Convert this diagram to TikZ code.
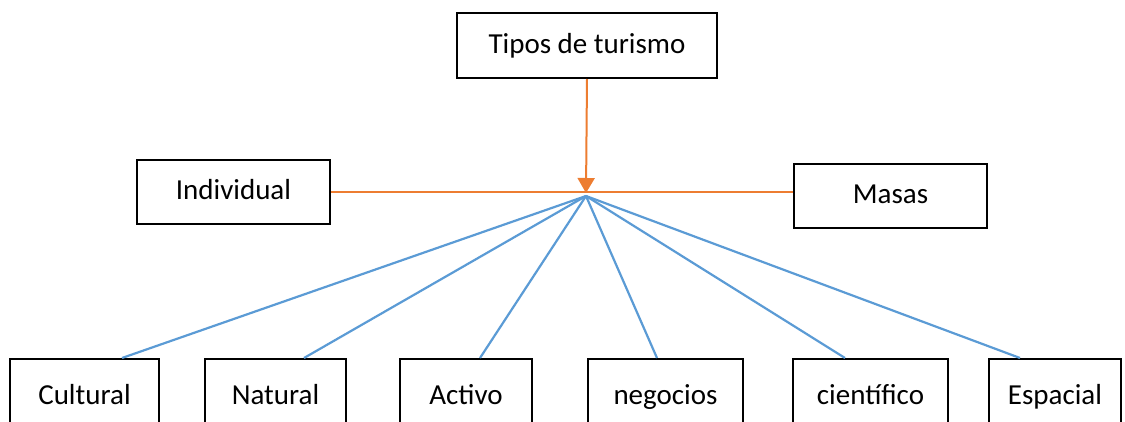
\documentclass[tikz,border=0pt]{standalone}
\usepackage{fontspec}
\setmainfont{Carlito}
\usetikzlibrary{positioning, arrows.meta}
\definecolor{ramaazul}{RGB}{91,155,213}
\definecolor{naranja}{RGB}{237,125,49}

\begin{document}
\begin{tikzpicture}[x=1pt, y=-1pt,
  caja/.style={rectangle, draw=black, line width=2pt, minimum height=64pt, inner sep=0pt, text height=21pt, text depth=6pt, align=center, fill=white, font=\fontsize{29}{35}\selectfont},
  flecha/.style={-{Triangle[length=15pt, width=17pt]}, line width=2pt, naranja},
  enlace/.style={line width=1.3pt, naranja},
  rama/.style={line width=2.2pt, ramaazul}
]
\useasboundingbox (0,0) rectangle (1125,421);

% Top node
\node[caja, minimum width=260pt, minimum height=65pt] (tipos) at (587,45.5) {Tipos de turismo};

% Middle nodes
\node[caja, minimum width=193pt] (indiv) at (233.5,192) {Individual};
\node[caja, minimum width=193pt] (masas) at (890.5,196) {Masas};

% Meeting points
\coordinate (cruce) at (586,193);
\coordinate (origen) at (586,196);

% Bottom nodes
\node[caja, minimum width=149pt, minimum height=76pt, anchor=north] (cultural)  at (84.5,358)  {Cultural};
\node[caja, minimum width=141pt, minimum height=76pt, anchor=north] (natural)   at (275.5,358) {Natural};
\node[caja, minimum width=132pt, minimum height=76pt, anchor=north] (activo)    at (466,358)   {Activo};
\node[caja, minimum width=155pt, minimum height=76pt, anchor=north] (negocios)  at (665.5,358) {negocios};
\node[caja, minimum width=155pt, minimum height=76pt, anchor=north] (cientifico) at (870.5,358) {científico};
\node[caja, minimum width=132pt, minimum height=76pt, anchor=north] (espacial)  at (1055,358)  {Espacial};

% Orange connectors
\draw[enlace] (indiv.east) -- (indiv.east -| masas.west);
\draw[flecha] (tipos.south) -- (cruce);

% Blue branches
\draw[rama] (origen) -- ([xshift=37.5pt]cultural.north);
\draw[rama] (origen) -- ([xshift=28.5pt]natural.north);
\draw[rama] (origen) -- ([xshift=14pt]activo.north);
\draw[rama] (origen) -- ([xshift=-8.5pt]negocios.north);
\draw[rama] (origen) -- ([xshift=-25.5pt]cientifico.north);
\draw[rama] (origen) -- ([xshift=-35pt]espacial.north);

\end{tikzpicture}
\end{document}
